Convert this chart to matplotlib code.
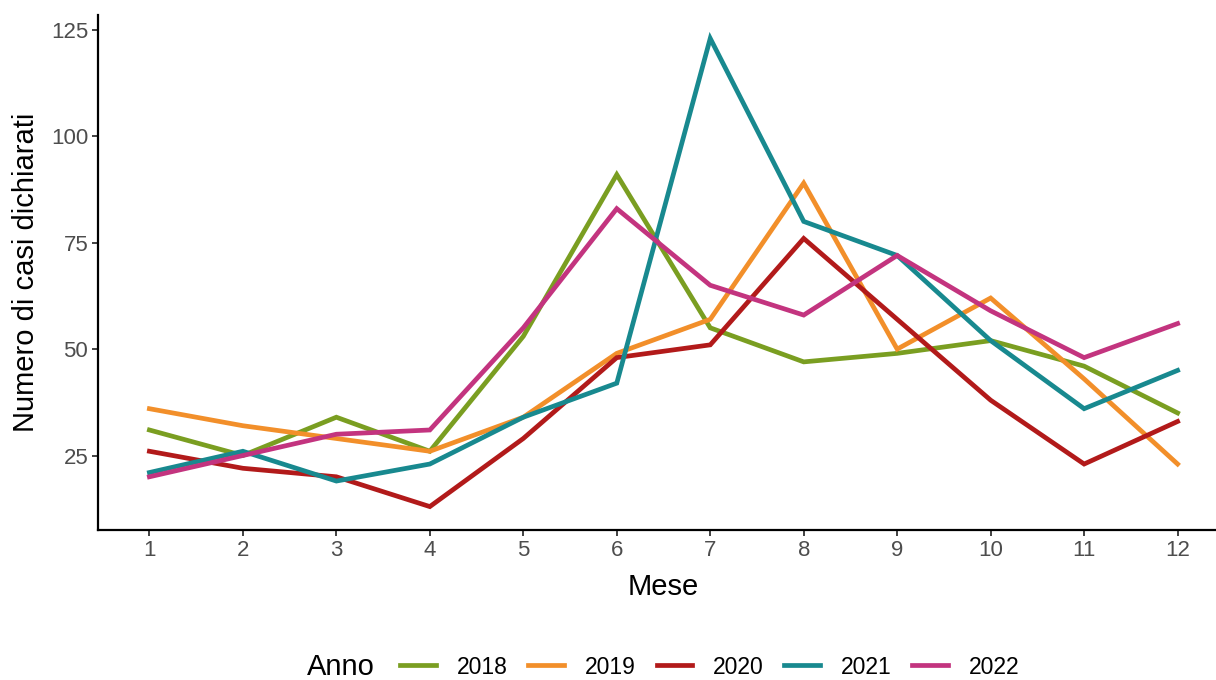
import matplotlib
matplotlib.use("Agg")
import matplotlib.pyplot as plt
from matplotlib.lines import Line2D

plt.rcParams["font.family"] = ["Liberation Sans", "DejaVu Sans"]

# --- dati: casi dichiarati per mese e anno ---
mesi = list(range(1, 13))
anni = ["2018", "2019", "2020", "2021", "2022"]
casi_2018 = [31, 25, 34, 26, 53, 91, 55, 47, 49, 52, 46, 35]
casi_2019 = [36, 32, 29, 26, 34, 49, 57, 89, 50, 62, 43, 23]
casi_2020 = [26, 22, 20, 13, 29, 48, 51, 76, 57, 38, 23, 33]
casi_2021 = [21, 26, 19, 23, 34, 42, 123, 80, 72, 52, 36, 45]
casi_2022 = [20, 25, 30, 31, 55, 83, 65, 58, 72, 59, 48, 56]
serie = [casi_2018, casi_2019, casi_2020, casi_2021, casi_2022]
colori = ["#7A9E21", "#F28F2A", "#B21A1A", "#18898F", "#C3347F"]

fig = plt.figure(figsize=(12.16, 6.8), dpi=100)
ax = fig.add_axes([98 / 1216, 1 - 530 / 680, 1131 / 1216, 515 / 680])

for valori, col in zip(serie, colori):
    ax.plot(mesi, valori, color=col, lw=3.4, solid_joinstyle="miter")

ax.set_xlim(0.45, 12.55)
ax.set_ylim(7.5, 128.5)
ax.set_xticks(mesi)
ax.set_yticks([25, 50, 75, 100, 125])

for s in ["top", "right"]:
    ax.spines[s].set_visible(False)
for s in ["left", "bottom"]:
    ax.spines[s].set_linewidth(1.6)
    ax.spines[s].set_color("black")
ax.tick_params(axis="both", labelsize=16, labelcolor="#4D4D4D", length=4, width=1.3,
               color="#333333", pad=3)

ax.set_xlabel("Mese", fontsize=21, labelpad=9)
ax.set_ylabel("Numero di casi dichiarati", fontsize=21, labelpad=8)

# legenda in basso
handles = [Line2D([], [], color=c, lw=3.4) for c in colori]
fig.text(307 / 1216, 1 - 667 / 680, "Anno", fontsize=21, va="center", ha="left")
fig.legend(handles, anni, loc="center", bbox_to_anchor=(710 / 1216, 1 - 667 / 680),
           ncol=5, frameon=False, fontsize=16.5, handlelength=1.57,
           handletextpad=0.9, columnspacing=0.9, borderpad=0, borderaxespad=0)

fig.savefig("out.png", dpi=100)
